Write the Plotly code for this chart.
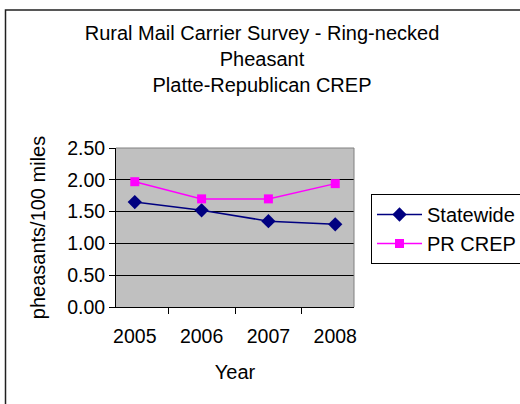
import plotly.graph_objects as go

years = ["2005", "2006", "2007", "2008"]
statewide = [1.65, 1.52, 1.35, 1.30]
pr_crep = [1.97, 1.70, 1.70, 1.94]
y_ticks = [0.0, 0.5, 1.0, 1.5, 2.0, 2.5]
y_tick_text = ["0.00", "0.50", "1.00", "1.50", "2.00", "2.50"]

FONT = "Liberation Sans, Arial, sans-serif"
W, H = 520, 404
L, R, T, B = 116, 166, 148, 97
pw, ph = W - L - R, H - T - B


def px_to_paper_x(px):
    return (px - L) / pw


def px_to_paper_y(py):
    return 1 - (py - T) / ph


fig = go.Figure()
fig.add_trace(go.Scatter(
    x=years, y=statewide, name="Statewide", mode="lines+markers",
    line=dict(color="#000080", width=1.5),
    marker=dict(symbol="diamond", size=11, color="#000080"),
))
fig.add_trace(go.Scatter(
    x=years, y=pr_crep, name="PR CREP", mode="lines+markers",
    line=dict(color="#FF00FF", width=1.5),
    marker=dict(symbol="square", size=9, color="#FF00FF"),
))

fig.update_layout(
    width=W, height=H,
    margin=dict(l=L, r=R, t=T, b=B, autoexpand=False),
    paper_bgcolor="white",
    plot_bgcolor="#C0C0C0",
    font=dict(family=FONT, size=19.5, color="black"),
    title=dict(
        text="Rural Mail Carrier Survey - Ring-necked<br>Pheasant<br>Platte-Republican CREP",
        x=262 / W, xanchor="center", xref="container",
        y=1 - 40 / H, yanchor="top", yref="container",
        font=dict(size=20),
    ),
    xaxis=dict(
        type="category", tickson="boundaries",
        ticks="outside", ticklen=6, tickcolor="black", tickwidth=1,
        ticklabelstandoff=12,
        tickfont=dict(size=19.5),
        showline=True, linecolor="black", linewidth=1,
        showgrid=False,
        title=dict(text="Year", standoff=18, font=dict(size=20)),
    ),
    yaxis=dict(
        range=[0, 2.5], tickvals=y_ticks, ticktext=y_tick_text,
        ticks="outside", ticklen=6, tickcolor="black", tickwidth=1,
        tickfont=dict(size=19.5),
        showline=True, linecolor="black", linewidth=1,
        showgrid=True, gridcolor="black", gridwidth=1,
        zeroline=False,
        title=dict(text="pheasants/100 miles", standoff=16, font=dict(size=20)),
    ),
    legend=dict(
        x=px_to_paper_x(371), y=px_to_paper_y(194),
        xanchor="left", yanchor="top",
        bordercolor="black", borderwidth=1, bgcolor="white",
        font=dict(size=20),
        itemwidth=45,
        tracegroupgap=0,
    ),
    shapes=[
        # plot area border (top and right edges in gray)
        dict(type="line", xref="paper", yref="paper", x0=0, x1=1, y0=1, y1=1,
             line=dict(color="#808080", width=1), layer="above"),
        dict(type="line", xref="paper", yref="paper", x0=1, x1=1, y0=0, y1=1,
             line=dict(color="#808080", width=1), layer="above"),
        # chart frame
        dict(type="rect", xref="paper", yref="paper",
             x0=px_to_paper_x(5.5), x1=px_to_paper_x(540),
             y0=px_to_paper_y(440), y1=px_to_paper_y(10),
             line=dict(color="#202020", width=1.5), fillcolor="rgba(0,0,0,0)",
             layer="above"),
    ],
)

fig.write_html("out.html")
